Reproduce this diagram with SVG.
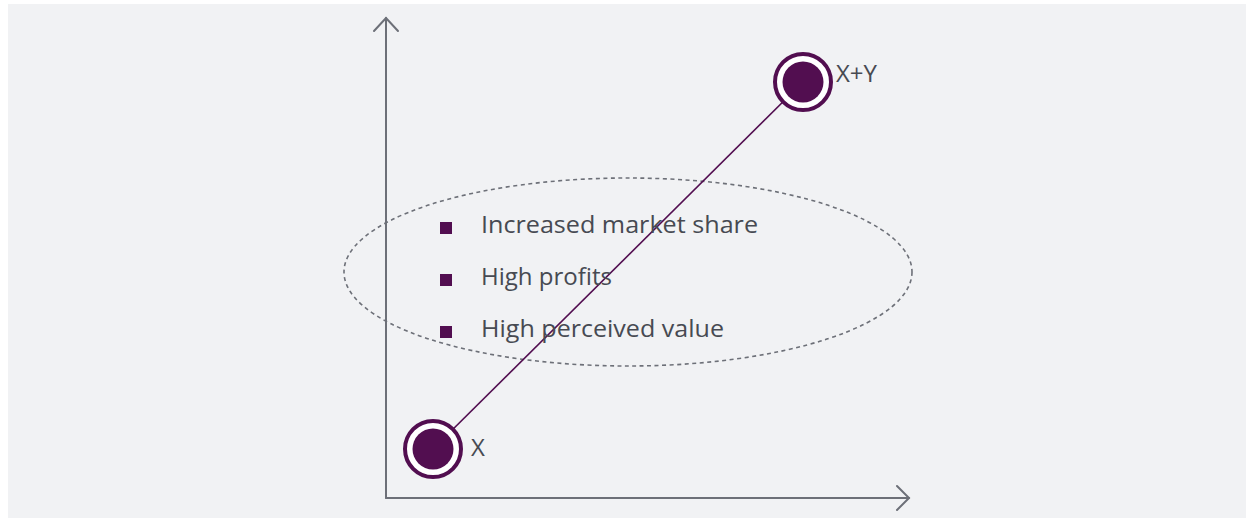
<svg xmlns="http://www.w3.org/2000/svg" width="1246" height="519" viewBox="0 0 1246 519">
<defs>
<style>
.axis{stroke:#6d7078;stroke-width:2;fill:none;stroke-linecap:round;stroke-linejoin:miter}
.lbl{font-family:"Open Sans","Liberation Sans",sans-serif;font-size:24px;fill:#474a52}
.ring{fill:#ffffff;stroke:#520e50;stroke-width:4}
.core{fill:#520e50}
.bul{fill:#520e50}
</style>
</defs>
<rect x="0" y="0" width="1246" height="519" fill="#ffffff"/>
<rect x="8" y="4" width="1238" height="514" fill="#f1f2f4"/>
<g id="axes">
<line class="axis" x1="386" y1="18" x2="386" y2="498"/>
<polyline class="axis" points="374,31 386,18 398,31"/>
<line class="axis" x1="386" y1="498" x2="909" y2="498"/>
<polyline class="axis" points="897,486 909,498 897,510"/>
</g>
<g id="ellipse">
<ellipse cx="628" cy="272" rx="284" ry="94" fill="none" stroke="#6d7078" stroke-width="1.6" stroke-dasharray="4 3.5"/>
</g>
<g id="connectors">
<line x1="433" y1="449" x2="803" y2="82" stroke="#520e50" stroke-width="1.6"/>
</g>
<g id="node-x">
<circle class="ring" cx="433" cy="449" r="28"/>
<circle class="core" cx="433" cy="449" r="20.5"/>
<text class="lbl" x="471" y="456">X</text>
</g>
<g id="node-xy">
<circle class="ring" cx="803" cy="82" r="28"/>
<circle class="core" cx="803" cy="82" r="20.5"/>
<text class="lbl" x="836" y="82">X+Y</text>
</g>
<g id="bullets">
<rect class="bul" x="440" y="222" width="12" height="12"/>
<text class="lbl" x="481" y="233" textLength="277" lengthAdjust="spacingAndGlyphs">Increased market share</text>
<rect class="bul" x="440" y="274" width="12" height="12"/>
<text class="lbl" x="481" y="285" textLength="131" lengthAdjust="spacingAndGlyphs">High profits</text>
<rect class="bul" x="440" y="326" width="12" height="12"/>
<text class="lbl" x="481" y="337" textLength="243" lengthAdjust="spacingAndGlyphs">High perceived value</text>
</g>
</svg>
